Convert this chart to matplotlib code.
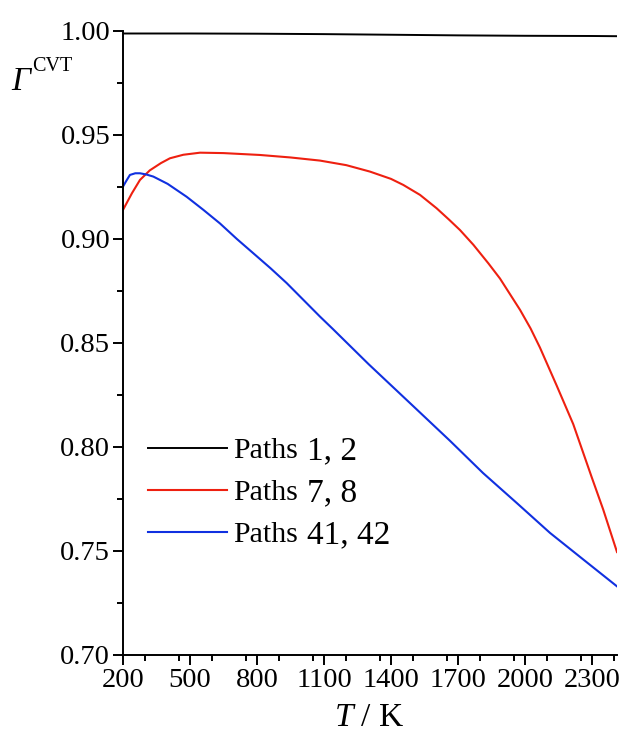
import matplotlib
matplotlib.use("Agg")
import matplotlib.pyplot as plt
from matplotlib.ticker import MultipleLocator

plt.rcParams['font.family'] = ['Liberation Serif', 'DejaVu Serif']
plt.rcParams['mathtext.fontset'] = 'custom'
plt.rcParams['mathtext.it'] = 'Liberation Serif:italic'
plt.rcParams['mathtext.rm'] = 'Liberation Serif'

# Data
T_black = [200, 500, 800, 1100, 1400, 1700, 2000, 2300, 2412]
G_black = [0.9988, 0.9988, 0.9987, 0.9985, 0.9982, 0.9979, 0.9977, 0.9976, 0.9975]

T_red = [200, 240, 276, 320, 370, 410, 470, 545, 650, 813, 950, 1082, 1200, 1306,
         1400, 1455, 1530, 1604, 1660, 1709, 1769, 1836, 1888, 1978, 2025, 2067, 2142,
         2216, 2298, 2350, 2412]
G_red = [0.914, 0.922, 0.9284, 0.933, 0.9365, 0.9388, 0.9405, 0.9415, 0.9413, 0.9404,
         0.9392, 0.9377, 0.9355, 0.9324, 0.9289, 0.926, 0.9212, 0.9148, 0.9093, 0.9043,
         0.8972, 0.8883, 0.8810, 0.8659, 0.857, 0.8478, 0.8295, 0.8110, 0.7857, 0.770,
         0.7495]

T_blue = [200, 215, 231, 255, 276, 305, 336, 400, 485, 560, 634, 710, 784, 860, 933,
          1008, 1082, 1140, 1300, 1500, 1664, 1812, 1964, 2112, 2260, 2412]
G_blue = [0.9252, 0.928, 0.9308, 0.9316, 0.9316, 0.931, 0.930, 0.9265, 0.9203, 0.914,
          0.9075, 0.900, 0.8931, 0.886, 0.8788, 0.8707, 0.8627, 0.8567, 0.8398, 0.8196,
          0.803, 0.7875, 0.773, 0.7587, 0.746, 0.733]

label_word = "Paths"
label_nums = ["1, 2", "7, 8", "41, 42"]
x_ticks = [200, 500, 800, 1100, 1400, 1700, 2000, 2300]
y_ticks = [0.70, 0.75, 0.80, 0.85, 0.90, 0.95, 1.00]

fig = plt.figure(figsize=(6.26, 7.32), dpi=100)
ax = fig.add_axes([123/626, 1-655/732, (617-123)/626, (655-31)/732])

ax.plot(T_black, G_black, color='black', lw=1.4, label=label_word)
ax.plot(T_red, G_red, color='#ee2010', lw=1.5, label=label_word)
ax.plot(T_blue, G_blue, color='#1030e0', lw=1.5, label=label_word)

ax.set_xlim(200, 2412)
ax.set_ylim(0.70, 1.00)
ax.set_xticks(x_ticks)
ax.set_yticks(y_ticks)
ax.set_yticklabels([f"{v:.2f}" for v in y_ticks])
ax.xaxis.set_minor_locator(MultipleLocator(150))
ax.yaxis.set_minor_locator(MultipleLocator(0.025))
ax.spines['top'].set_visible(False)
ax.spines['right'].set_visible(False)
for s in ['left', 'bottom']:
    ax.spines[s].set_linewidth(1.4)
ax.tick_params(which='major', direction='out', length=7.2, width=1.4, labelsize=20.5, pad=2)
ax.tick_params(which='minor', direction='out', length=4.2, width=1.4)

fig.text(369/626, 1-726/732, "$T$ / K", fontsize=24, ha='center', va='baseline')

fig.text(11/626, 1-90/732, "Γ", fontsize=24, style='italic', ha='left', va='baseline')
fig.text(32/626, 1-71/732, "CVT", fontsize=14.5, ha='left', va='baseline')

leg = ax.legend(loc='upper left', bbox_to_anchor=(0.0506, 0.3486), frameon=False,
                fontsize=21.5, handlelength=2.64, handletextpad=0.2, labelspacing=0.5,
                borderaxespad=0, borderpad=0)
for txt, nums in zip(leg.get_texts(), label_nums):
    ax.annotate(nums, xy=(1, 0), xycoords=txt, xytext=(6.5, -1.3),
                textcoords='offset points', fontsize=24, ha='left', va='bottom',
                zorder=20)

fig.savefig("out.png", dpi=100, facecolor='white')
